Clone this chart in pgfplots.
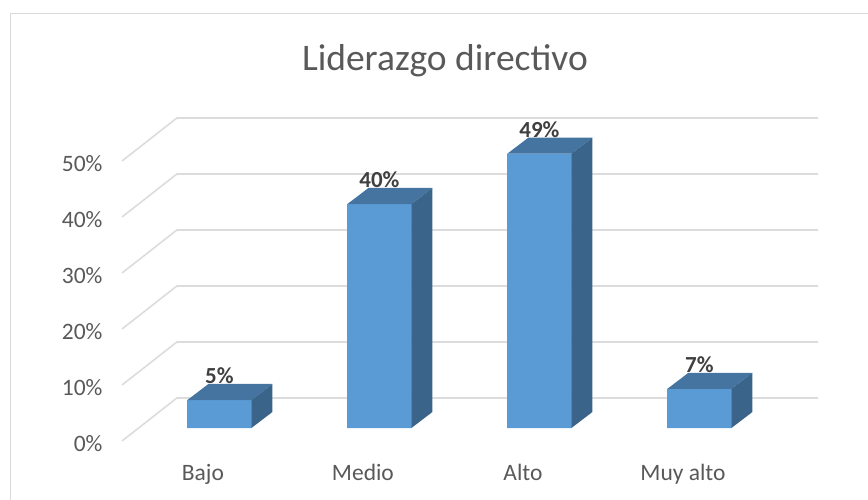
\documentclass[border=0pt]{standalone}
\usepackage{pgfplots}
\pgfplotsset{compat=1.18}
\usepackage{fontspec}
\setmainfont{Carlito}
\definecolor{barfront}{HTML}{5B9BD5}
\definecolor{bartop}{HTML}{44749F}
\definecolor{barside}{HTML}{3A6489}
\definecolor{gridcol}{HTML}{DCDCDC}
\definecolor{framecol}{HTML}{D9D9D9}
\definecolor{txtcol}{HTML}{595959}
\definecolor{lblcol}{HTML}{404040}

\begin{document}
\begin{tikzpicture}[x=1pt,y=1pt]
\useasboundingbox (-122,-59) rectangle (746,441);
\draw[framecol,line width=1.6pt] (-111.5,-59) -- (-111.5,427.5) -- (746,427.5);
\begin{axis}[
  anchor=south west, at={(0pt,0pt)},
  scale only axis, width=696pt, height=323pt,
  xmin=-0.609, xmax=3.741,
  ymin=-2.32, ymax=55.36,
  clip=false,
  axis line style={draw=none},
  tick style={draw=none},
  xtick={0,1,2,3},
  xticklabels={Bajo,Medio,Alto,Muy alto},
  ytick={-2.32,7.68,17.68,27.68,37.68,47.68},
  yticklabels={0\%,10\%,20\%,30\%,40\%,50\%},
  xticklabel style={font=\fontsize{23.5}{28}\selectfont, text=txtcol, xshift=-16.5pt, yshift=-20pt},
  yticklabel style={font=\fontsize{23.5}{28}\selectfont, text=txtcol, xshift=-16pt, yshift=-3pt},
  title={Liderazgo directivo},
  title style={at={(axis description cs:0.464,1.158)}, anchor=center,
    font=\fontsize{37.5}{44}\selectfont, text=txtcol},
]
% back wall and side wall grid
\pgfplotsinvokeforeach{-2.32,7.68,17.68,27.68,37.68,47.68}{
  \addplot[gridcol, line width=1.6pt] coordinates {(-0.609,#1) (-0.266,#1+7.68) (3.741,#1+7.68)};
}

% front faces
\addplot[ybar, bar width=64.5pt, bar shift=0pt, fill=barfront, draw=none] coordinates {
  (0,5) (1,40) (2,49) (3,7)
};

% Bajo
\addplot[fill=bartop, draw=none] coordinates {(-0.2,5) (0.2,5) (0.331,7.86) (-0.069,7.86)};
\addplot[fill=barside, draw=none] coordinates {(0.2,0) (0.331,2.86) (0.331,7.86) (0.2,5)};
% Medio
\addplot[fill=bartop, draw=none] coordinates {(0.8,40) (1.2,40) (1.331,42.86) (0.931,42.86)};
\addplot[fill=barside, draw=none] coordinates {(1.2,0) (1.331,2.86) (1.331,42.86) (1.2,40)};
% Alto
\addplot[fill=bartop, draw=none] coordinates {(1.8,49) (2.2,49) (2.331,51.86) (1.931,51.86)};
\addplot[fill=barside, draw=none] coordinates {(2.2,0) (2.331,2.86) (2.331,51.86) (2.2,49)};
% Muy alto
\addplot[fill=bartop, draw=none] coordinates {(2.8,7) (3.2,7) (3.331,9.86) (2.931,9.86)};
\addplot[fill=barside, draw=none] coordinates {(3.2,0) (3.331,2.86) (3.331,9.86) (3.2,7)};

% data labels
\addplot[draw=none, point meta=y,
  nodes near coords={\pgfmathprintnumber[assume math mode=true]{\pgfplotspointmeta}\%},
  every node near coord/.append style={font=\bfseries\fontsize{23}{28}\selectfont,
    text=lblcol, anchor=center, yshift=24pt}]
  coordinates {(0,5) (1,40) (2,49) (3,7)};
\end{axis}
\end{tikzpicture}
\end{document}
